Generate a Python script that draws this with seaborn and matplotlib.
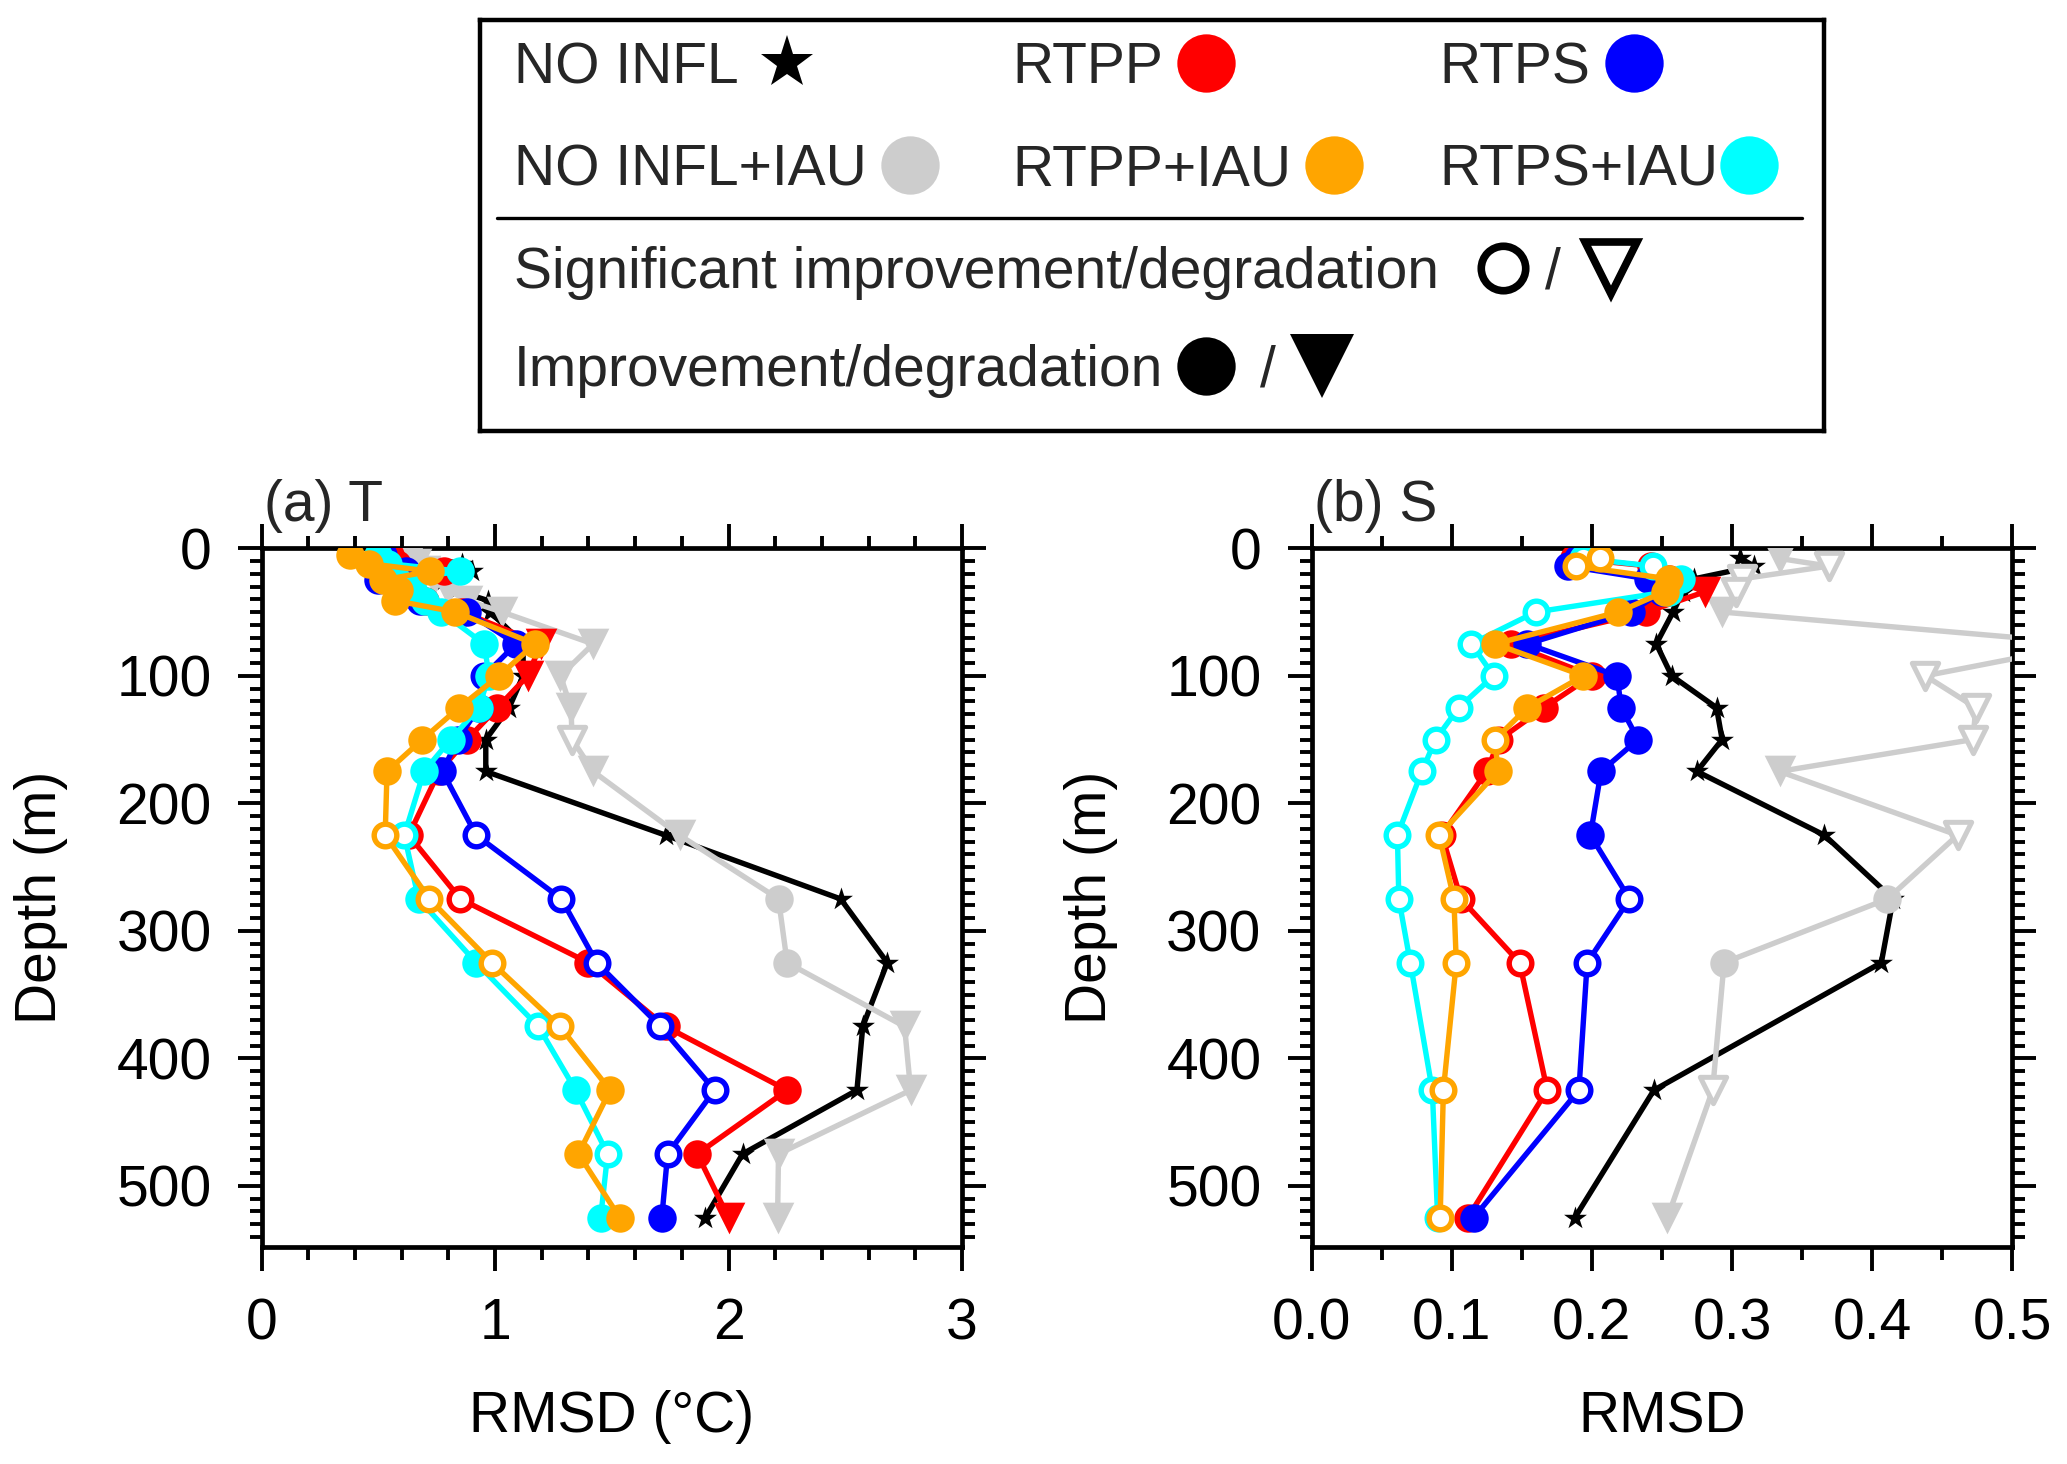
import pandas as pd
import matplotlib
matplotlib.use("Agg")
import matplotlib.pyplot as plt
import seaborn as sns
from matplotlib.ticker import MultipleLocator

sns.set_theme(style="ticks")
plt.rcParams['font.family'] = ['Liberation Sans', 'DejaVu Sans']

# depth levels (m)
depth_t = [5, 12, 18, 25, 33, 41, 50, 75, 100, 125, 150, 175, 225, 275, 325, 375, 425, 475, 525]
depth_s = [8, 14, 24, 34, 50, 75, 100, 125, 150, 175, 225, 275, 325, 425, 525]

# (a) T RMSD (degC)
t_noinfl = [0.58, 0.86, 0.90, 0.78, 0.83, 0.97, 0.98, 1.12, 1.12, 1.06, 0.96, 0.96,
            1.73, 2.48, 2.68, 2.575, 2.55, 2.06, 1.90]
t_noinfl_iau = [0.64, 0.66, 0.70, 0.74, 0.80, 0.88, 1.03, 1.42, 1.28, 1.325, 1.33, 1.42,
                1.79, 2.214, 2.251, 2.754, 2.78, 2.214, 2.21]
t_rtpp = [0.55, 0.58, 0.78, 0.60, 0.64, 0.70, 0.86, 1.196, 1.14, 1.01, 0.88, 0.76,
          0.63, 0.851, 1.40, 1.73, 2.251, 1.866, 2.0]
t_rtps = [0.52, 0.53, 0.62, 0.50, 0.62, 0.68, 0.88, 1.09, 0.953, 0.93, 0.84, 0.774,
          0.919, 1.284, 1.435, 1.708, 1.94, 1.739, 1.714]
t_rtps_iau = [0.50, 0.54, 0.85, 0.58, 0.65, 0.70, 0.77, 0.953, 0.974, 0.93, 0.81, 0.695,
              0.611, 0.672, 0.919, 1.185, 1.345, 1.482, 1.452]
t_rtpp_iau = [0.38, 0.46, 0.72, 0.52, 0.59, 0.57, 0.83, 1.17, 1.017, 0.845, 0.688, 0.537,
              0.529, 0.718, 0.986, 1.277, 1.493, 1.357, 1.534]

# marker codes: * star, o filled circle, O open circle, v filled triangle, V open triangle
t_noinfl_mk = "*" * 19
t_noinfl_iau_mk = "vvvvvvv" + "vvvVv" + "voovvvv"
t_rtpp_mk = "ooooooo" + "vvooo" + "oOoooov"
t_rtps_mk = "ooooooo" + "oOooo" + "OOOOOOo"
t_rtps_iau_mk = "ooooooo" + "ooooo" + "OooOoOo"
t_rtpp_iau_mk = "ooooooo" + "ooooo" + "OOOOooo"

# (b) S RMSD
s_noinfl = [0.306, 0.316, 0.273, 0.265, 0.258, 0.246, 0.257, 0.289, 0.293, 0.275,
            0.366, 0.415, 0.4066, 0.2443, 0.1879]
s_noinfl_iau = [0.334, 0.369, 0.307, 0.303, 0.293, 0.555, 0.438, 0.474, 0.472, 0.334,
                0.461, 0.411, 0.2944, 0.2862, 0.254]
s_rtpp = [0.187, 0.242, 0.255, 0.281, 0.239, 0.142, 0.200, 0.166, 0.134, 0.125,
          0.093, 0.1066, 0.1485, 0.1682, 0.1115]
s_rtps = [0.19, 0.183, 0.24, 0.25, 0.228, 0.154, 0.218, 0.221, 0.233, 0.2066,
          0.199, 0.2269, 0.1967, 0.1908, 0.1157]
s_rtps_iau = [0.194, 0.244, 0.264, 0.255, 0.16, 0.114, 0.13, 0.105, 0.0885, 0.0787,
              0.0613, 0.0623, 0.0705, 0.0862, 0.09]
s_rtpp_iau = [0.206, 0.189, 0.255, 0.252, 0.219, 0.131, 0.194, 0.154, 0.131, 0.133,
              0.0911, 0.1016, 0.1033, 0.0941, 0.0918]

s_noinfl_mk = "*" * 15
s_noinfl_iau_mk = "vVVVv" + "vVVVv" + "VooVv"
s_rtpp_mk = "ooovo" + "oooOo" + "OOOOo"
s_rtps_mk = "ooooo" + "ooooo" + "oOOOo"
s_rtps_iau_mk = "OOooO" + "OOOOO" + "OOOOO"
s_rtpp_iau_mk = "OOooo" + "oooOo" + "OOOOO"

names = ['NO INFL', 'NO INFL+IAU', 'RTPP', 'RTPS', 'RTPS+IAU', 'RTPP+IAU']
colors = ['black', '#CDCDCD', '#FF0000', '#0000FF', '#00FFFF', '#FFA500']
legend_rows = [[0, 2, 3], [1, 5, 4]]

t_series = [(t_noinfl, t_noinfl_mk), (t_noinfl_iau, t_noinfl_iau_mk), (t_rtpp, t_rtpp_mk),
            (t_rtps, t_rtps_mk), (t_rtps_iau, t_rtps_iau_mk), (t_rtpp_iau, t_rtpp_iau_mk)]
s_series = [(s_noinfl, s_noinfl_mk), (s_noinfl_iau, s_noinfl_iau_mk), (s_rtpp, s_rtpp_mk),
            (s_rtps, s_rtps_mk), (s_rtps_iau, s_rtps_iau_mk), (s_rtpp_iau, s_rtpp_iau_mk)]

FS = 41
LW = 3.9


def marker_kw(code, color):
    if code == '*':
        return dict(marker='*', s=300, color=color, edgecolor=color, linewidth=0)
    if code == 'o':
        return dict(marker='o', s=420, color=color, edgecolor=color, linewidth=0)
    if code == 'O':
        return dict(marker='o', s=265, color='white', edgecolor=color, linewidth=3.9)
    if code == 'v':
        return dict(marker='v', s=520, color=color, edgecolor=color, linewidth=0)
    return dict(marker='v', s=360, color='white', edgecolor=color, linewidth=3.6)


def draw_panel(ax, depth, series, xmax, xmaj, xmin, title, xlabel):
    for i, ((vals, mk), color) in enumerate(zip(series, colors)):
        z = 3 + 2 * i
        sns.lineplot(x=vals, y=depth, sort=False, estimator=None, color=color,
                     linewidth=LW, ax=ax, zorder=z)
        df = pd.DataFrame({'x': vals, 'y': depth, 'mk': list(mk)})
        for code, sub in df.groupby('mk'):
            sns.scatterplot(data=sub, x='x', y='y', ax=ax, zorder=z + 1,
                            legend=False, **marker_kw(code, color))
    ax.set_xlim(0, xmax)
    ax.set_ylim(548, 0)
    ax.xaxis.set_major_locator(MultipleLocator(xmaj))
    ax.xaxis.set_minor_locator(MultipleLocator(xmin))
    ax.yaxis.set_major_locator(MultipleLocator(100))
    ax.yaxis.set_minor_locator(MultipleLocator(10))
    ax.tick_params(which='both', direction='out', top=True, right=True,
                   labelsize=FS, width=2.8, color='black', labelcolor='black', pad=19)
    ax.tick_params(which='major', length=17)
    ax.tick_params(which='minor', length=9)
    for sp in ax.spines.values():
        sp.set_linewidth(3.4)
        sp.set_color('black')
        sp.set_visible(True)
    ax.set_xlabel(xlabel, fontsize=FS, color='black')
    ax.set_ylabel('Depth (m)', fontsize=FS, color='black')
    ax.xaxis.set_label_coords(0.5, -0.205)
    ax.xaxis.label.set_va('top')
    ax.yaxis.set_label_coords(-0.276, 0.5)
    ax.text(0.003, 1.0396, title, transform=ax.transAxes, fontsize=FS,
            ha='left', va='baseline')
    ax.grid(False)


fig = plt.figure(figsize=(20.67, 14.64), dpi=100)
ax_t = fig.add_axes([0.1266, 0.1482, 0.3388, 0.4773])
ax_s = fig.add_axes([0.6345, 0.1482, 0.3390, 0.4773])
draw_panel(ax_t, depth_t, t_series, 3, 1, 0.2, '(a) T', 'RMSD (°C)')
draw_panel(ax_s, depth_s, s_series, 0.5, 0.1, 0.05, '(b) S', 'RMSD')

# legend box (pixel coordinates inside the box)
lg = fig.add_axes([0.2322, 0.7056, 0.6502, 0.2807])
lg.set_xlim(0, 1344)
lg.set_ylim(411, 0)
lg.set_xticks([])
lg.set_yticks([])
lg.set_facecolor('white')
for sp in lg.spines.values():
    sp.set_linewidth(3.2)
    sp.set_color('black')
    sp.set_visible(True)

row_y = [43, 145, 248, 346]
text_x = [34, 532, 959]
glyph_x = [[307, 726, 1154], [430, 854, 1269]]
for r in range(2):
    for c in range(3):
        k = legend_rows[r][c]
        lg.text(text_x[c], row_y[r] + 20, names[k], fontsize=FS, ha='left', va='baseline')
        if k == 0:
            lg.plot(glyph_x[r][c], row_y[r], marker='*', ms=40, color='black', mew=0)
        else:
            lg.plot(glyph_x[r][c], row_y[r], marker='o', ms=42, color=colors[k], mew=0)

lg.plot([17, 1322], [197.5, 197.5], color='black', lw=2.4)
lg.text(text_x[0], row_y[2] + 20, 'Significant improvement/degradation', fontsize=FS,
        ha='left', va='baseline')
lg.plot(1023, row_y[2], marker='o', ms=32, mfc='white', mec='black', mew=5.5)
lg.text(1073, row_y[2] + 20, '/', fontsize=FS, ha='center', va='baseline')
lg.plot(1131, row_y[2], marker='v', ms=38, mfc='white', mec='black', mew=5.5)

lg.text(text_x[0], row_y[3] + 20, 'Improvement/degradation', fontsize=FS,
        ha='left', va='baseline')
lg.plot(726, row_y[3], marker='o', ms=42, color='black', mew=0)
lg.text(788, row_y[3] + 20, '/', fontsize=FS, ha='center', va='baseline')
lg.plot(842, row_y[3], marker='v', ms=46, color='black', mew=0)

fig.savefig('out.png', dpi=100)
